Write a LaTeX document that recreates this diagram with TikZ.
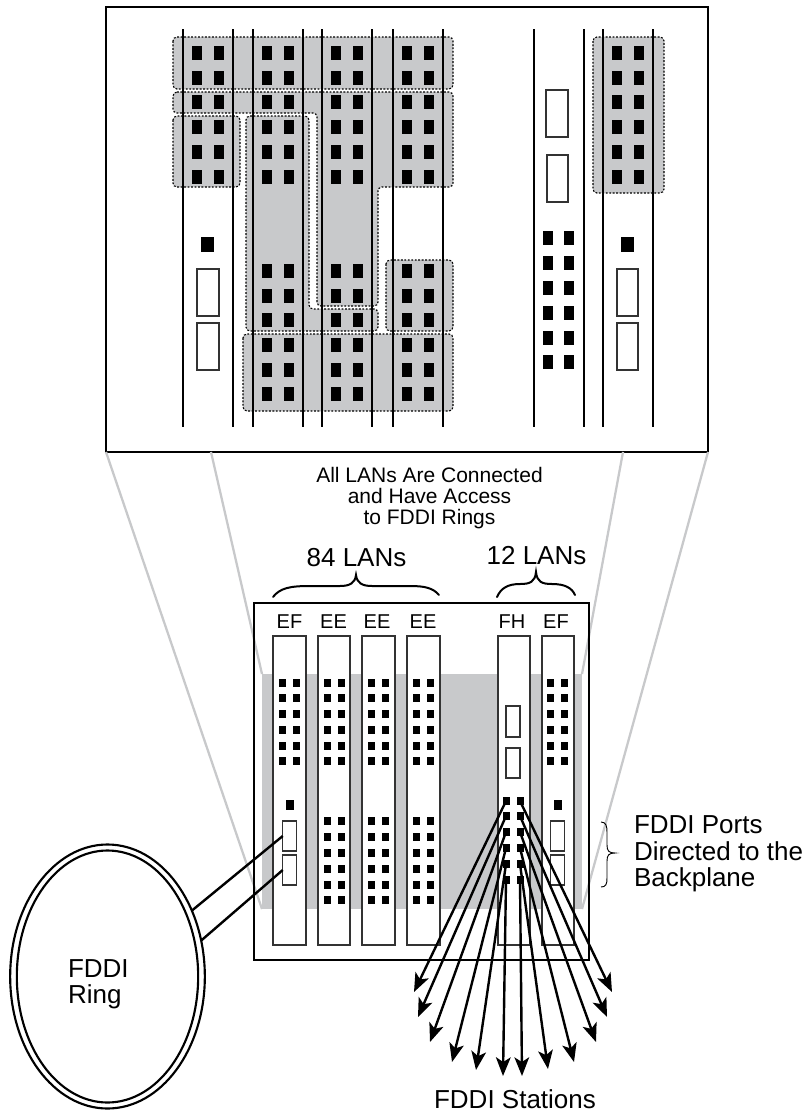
\documentclass[tikz,border=0pt]{standalone}
\usepackage{fontspec}
\setmainfont{Liberation Sans}
\usetikzlibrary{arrows.meta,shapes.geometric}
\definecolor{bandgray}{HTML}{C8C9CB}
\definecolor{edgegray}{HTML}{333333}
\newcommand{\pxbox}[5]{\node[#1,minimum width=#4*.75pt,minimum height=#5*.75pt] (#2) at #3 {};}
\tikzset{
  x=.75pt,y=-.75pt,
  every node/.style={inner sep=0pt,outer sep=0pt},
  region/.style={draw=black,fill=bandgray,line width=.85pt,dash pattern=on 1.4pt off 1.2pt,rounded corners=3pt},
  rail/.style={draw=black,line width=1.9pt},
  bigsq/.style={fill=black,minimum width=7.5pt,minimum height=10pt},
  smallsq/.style={fill=black,minimum width=5.25pt,minimum height=6pt},
  port/.style={draw=edgegray,fill=white,line width=.8pt},
  card/.style={draw=edgegray,fill=white,line width=1.2pt},
  frame/.style={draw=black,line width=2.1pt},
  gline/.style={draw=bandgray,line width=1.7pt},
  link/.style={draw=black,line width=1.8pt},
  flow/.style={draw=black,line width=1.8pt,-{Stealth[length=14pt,width=11pt,inset=3.5pt]}},
  brace/.style={draw=black,line width=1.5pt,line cap=round},
  thinbrace/.style={draw=black,line width=.7pt},
  big/.style={font=\fontsize{19.5}{20}\selectfont},
  mid/.style={font=\fontsize{15.75}{15.75}\selectfont,align=center},
  cardlabel/.style={font=\fontsize{15}{15}\selectfont,anchor=base},
}
\begin{document}
\begin{tikzpicture}
\useasboundingbox (0,0) rectangle (810,1114);
\fill[white] (0,0) rectangle (810,1114);

% chassis fill, band, guide lines
\pxbox{fill=white}{chassis}{(421.5,781.5)}{335}{357}
\pxbox{fill=bandgray}{band}{(422,791.5)}{320}{235}
\pxbox{frame,fill=white}{topbox}{(407,229.5)}{602}{445}
\coordinate (tb1) at (211,452);
\coordinate (tb2) at (623,452);
\draw[gline] (topbox.south west) -- (band.south west);
\draw[gline] (tb1) -- (band.north west);
\draw[gline] (tb2) -- (band.north east);
\draw[gline] (topbox.south east) -- (band.south east);
\draw[frame] (chassis.south west) rectangle (chassis.north east);

% shaded regions of the magnified view
\path[region] (173,37) rectangle (453,89);
\path[region] (173,92) -- (453,92) -- (453,187) -- (378,187) -- (378,306) -- (317,306) -- (317,113) -- (173,113) -- cycle;
\path[region] (173,116) rectangle (240,187);
\path[region] (246,116) -- (309,116) -- (309,309) -- (378,309) -- (378,331) -- (246,331) -- cycle;
\path[region] (386,260) rectangle (453,331);
\path[region] (243,334) rectangle (453,411);
\path[region] (593,37) rectangle (664,193);

% rails of the magnified view
\foreach \x in {183,233,253,303,322,372,393,443,534,584,603,653}
  \draw[rail] (\x,29) -- (\x,427);

% squares of the magnified view
\foreach \x/\c in {197/a,219/b,267/c,289/d,336/e,358/f,407/g,429/h,617/i,639/j}
  \foreach \y in {53,78,102,127,152,177}
    \node[bigsq] (t\c\y) at (\x,\y) {};
\foreach \x/\c in {267/c,289/d,336/e,358/f,407/g,429/h}
  \foreach \y in {271,296,320,345,370,394}
    \node[bigsq] (t\c\y) at (\x,\y) {};
\foreach \x/\c in {548/k,569/l}
  \foreach \y in {238,263,288,313,338,362}
    \node[bigsq] (t\c\y) at (\x,\y) {};
\node[bigsq,minimum width=9.75pt,minimum height=11.25pt] (ta) at (207,244) {};
\node[bigsq,minimum width=9.75pt,minimum height=11.25pt] (tb) at (627,244) {};
\pxbox{port}{tp1}{(208,292.5)}{22}{47}
\pxbox{port}{tp2}{(208,346.5)}{22}{47}
\pxbox{port}{tp3}{(557,113.5)}{22}{47}
\pxbox{port}{tp4}{(557.5,178.5)}{21}{47}
\pxbox{port}{tp5}{(627.5,292.5)}{21}{47}
\pxbox{port}{tp6}{(627.5,346.5)}{21}{47}

% cards of the chassis
\pxbox{card}{c1}{(289.5,790.5)}{33}{309}
\pxbox{card}{c2}{(334,790.5)}{32}{309}
\pxbox{card}{c3}{(378.5,790.5)}{33}{309}
\pxbox{card}{c4}{(423.5,790.5)}{33}{309}
\pxbox{card}{c5}{(514,790.5)}{32}{309}
\pxbox{card}{c6}{(558,790.5)}{32}{309}

\foreach \x/\c in {282/a,296/b,327/c,341/d,371/e,385/f,416/g,430/h,550/i,564/j}
  \foreach \y in {683,698,714,730,746,761}
    \node[smallsq] (s\c\y) at (\x,\y) {};
\foreach \x/\c in {327/c,341/d,371/e,385/f,416/g,430/h}
  \foreach \y in {821,837,853,869,885,900}
    \node[smallsq] (s\c\y) at (\x,\y) {};
\foreach \n/\y in {1/801,2/816,3/832,4/848,5/864,6/880}{
  \node[smallsq] (fl\n) at (506,\y) {};
  \node[smallsq] (fr\n) at (520,\y) {};
}
\node[smallsq,minimum width=6pt,minimum height=7.5pt] (sa) at (290,805) {};
\node[smallsq,minimum width=6pt,minimum height=7.5pt] (sb) at (558,805) {};
\pxbox{port}{p1}{(289.5,836)}{13.5}{30}
\pxbox{port}{p2}{(289.5,870)}{13.5}{30}
\pxbox{port}{p3}{(557.5,836)}{13.5}{30}
\pxbox{port}{p4}{(557.5,870)}{13.5}{30}
\pxbox{port}{p5}{(513,721.5)}{14}{31}
\pxbox{port}{p6}{(513,763)}{14}{30}

% card labels
\node[cardlabel] (l1) at (289.5,628) {EF};
\node[cardlabel] (l2) at (333.5,628) {EE};
\node[cardlabel] (l3) at (377,628) {EE};
\node[cardlabel] (l4) at (423,628) {EE};
\node[cardlabel] (l5) at (512,628) {FH};
\node[cardlabel] (l6) at (556,628) {EF};

% FDDI ring
\node[ellipse,draw=black,line width=1.6pt,fill=white,minimum width=146pt,minimum height=198pt] (ring) at (107.5,976.5) {};
\node[ellipse,draw=black,line width=1.6pt,fill=white,minimum width=136pt,minimum height=189pt] (ringin) at (107.5,976.5) {};
\draw[link] (ring.38.5) -- (p1.west);
\draw[link] (ring.21.9) -- (p2.west);
\node[big,anchor=base west] (ringa) at (68,977) {FDDI};
\node[big,anchor=base west] (ringb) at (68,1003) {Ring};

% arrows to the stations
\foreach \n/\x/\y in {1/414/992,2/418/1017,3/430/1042,4/452/1062,5/476/1070,6/503/1076}{
  \coordinate (tl\n) at (\x,\y);
  \draw[flow] (fl\n.center) -- (tl\n);
}
\foreach \n/\x/\y in {1/612/992,2/607/1017,3/596/1042,4/574/1062,5/548/1069,6/522/1076}{
  \coordinate (tr\n) at (\x,\y);
  \draw[flow] (fr\n.center) -- (tr\n);
}

% braces
\draw[brace] (273,597) .. controls (280,588) and (290,586) .. (310,586) -- (340,586) .. controls (350,586) and (355,583) .. (356,575) .. controls (357,583) and (362,586) .. (372,586) -- (410,586) .. controls (425,586) and (433,588) .. (439,595);
\draw[brace] (497,597) .. controls (501,588) and (508,584) .. (520,584) .. controls (530,584) and (535,582) .. (536,572) .. controls (537,582) and (542,584) .. (552,584) .. controls (565,584) and (572,588) .. (575,595);
\draw[thinbrace] (601,822) .. controls (606,822) and (607,826) .. (607,832) -- (607,845) .. controls (607,851) and (609,853) .. (615,853) .. controls (609,853) and (607,855) .. (607,861) -- (607,878) .. controls (607,884) and (606,887) .. (601,887);

% texts
\node[mid,anchor=base] (t1) at (429.5,482) {All LANs Are Connected};
\node[mid,anchor=base] (t2) at (429.5,503) {and Have Access};
\node[mid,anchor=base] (t3) at (429.5,524) {to FDDI Rings};
\node[big,anchor=base] (t84) at (356.5,566) {84 LANs};
\node[big,anchor=base] (t12) at (536.5,564) {12 LANs};
\node[big,anchor=base west] (pa) at (634,833) {FDDI Ports};
\node[big,anchor=base west] (pb) at (634,860) {Directed to the};
\node[big,anchor=base west] (pc) at (634,886) {Backplane};
\node[big,anchor=base] (st) at (515,1108) {FDDI Stations};
\end{tikzpicture}
\end{document}
